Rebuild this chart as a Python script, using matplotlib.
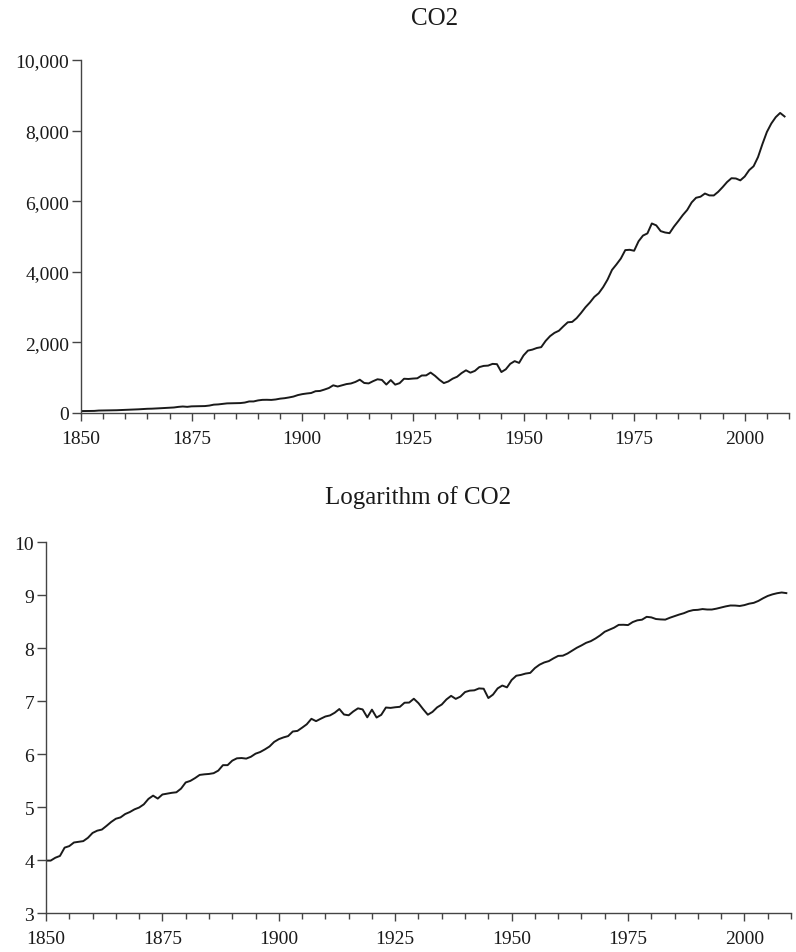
import matplotlib
matplotlib.use("Agg")
import matplotlib.pyplot as plt
from matplotlib.ticker import MultipleLocator, StrMethodFormatter
import numpy as np

plt.rcParams['font.family'] = ['Liberation Serif', 'DejaVu Serif']

# yearly global CO2 emissions
years = np.arange(1850, 2010)
co2 = [
    54, 54, 57, 59, 69, 71, 76, 77, 78, 83,             # 1850s
    91, 95, 97, 104, 112, 119, 122, 130, 135, 142,       # 1860s
    147, 156, 173, 184, 174, 188, 191, 194, 196, 210,    # 1870s
    236, 243, 256, 272, 275, 277, 281, 295, 327, 327,    # 1880s
    356, 372, 374, 370, 383, 406, 419, 440, 465, 507,    # 1890s
    534, 552, 566, 617, 624, 663, 707, 784, 750, 785,    # 1900s
    819, 836, 879, 943, 850, 838, 901, 955, 936, 806,    # 1910s
    932, 803, 845, 970, 963, 975, 983, 1062, 1065, 1145, # 1920s
    1053, 940, 847, 893, 973, 1027, 1130, 1209, 1142, 1192,      # 1930s
    1299, 1334, 1342, 1391, 1383, 1160, 1238, 1392, 1469, 1419,  # 1940s
    1630, 1767, 1795, 1841, 1865, 2042, 2177, 2270, 2330, 2454,  # 1950s
    2569, 2580, 2686, 2833, 2995, 3130, 3288, 3393, 3566, 3780,  # 1960s
    4053, 4208, 4376, 4614, 4623, 4596, 4864, 5026, 5087, 5369,  # 1970s
    5315, 5152, 5113, 5094, 5280, 5439, 5607, 5752, 5965, 6097,  # 1980s
    6127, 6217, 6164, 6162, 6266, 6398, 6542, 6651, 6643, 6590,  # 1990s
    6700, 6880, 6990, 7250, 7620, 7960, 8200, 8380, 8500, 8400,  # 2000s
]
log_co2 = np.log(co2)

line_col = '#1a1a1a'
axis_col = '#444444'

fig = plt.figure(figsize=(7.96, 9.53), dpi=100)
ax1 = fig.add_axes([0.1018, 0.5656, 0.8894, 0.3704])
ax2 = fig.add_axes([0.0578, 0.0409, 0.9359, 0.3893])


def style(ax):
    for s in ['top', 'right']:
        ax.spines[s].set_visible(False)
    for s in ['left', 'bottom']:
        ax.spines[s].set_color(axis_col)
        ax.spines[s].set_linewidth(1.0)
    ax.set_xlim(1850, 2010)
    ax.xaxis.set_major_locator(MultipleLocator(25))
    ax.xaxis.set_minor_locator(MultipleLocator(5))
    ax.tick_params(axis='x', which='major', length=6, width=1, color=axis_col,
                   labelsize=14, labelcolor='#1a1a1a', pad=6)
    ax.tick_params(axis='x', which='minor', length=4, width=1, color=axis_col)
    ax.tick_params(axis='y', which='major', length=6.5, width=1, color=axis_col,
                   labelsize=14, labelcolor='#1a1a1a', pad=2)


# top panel: raw values
ax1.plot(years, co2, color=line_col, lw=1.4)
style(ax1)
ax1.set_ylim(0, 10000)
ax1.yaxis.set_major_locator(MultipleLocator(2000))
ax1.yaxis.set_major_formatter(StrMethodFormatter('{x:,.0f}'))
ax1.set_title('CO2', fontsize=18, pad=26, color='#1a1a1a')

# bottom panel: log values
ax2.plot(years, log_co2, color=line_col, lw=1.4)
style(ax2)
ax2.set_ylim(3, 10)
ax2.yaxis.set_major_locator(MultipleLocator(1))
ax2.set_title('Logarithm of CO2', fontsize=18, pad=28, color='#1a1a1a')

fig.savefig('out.png', dpi=100)
